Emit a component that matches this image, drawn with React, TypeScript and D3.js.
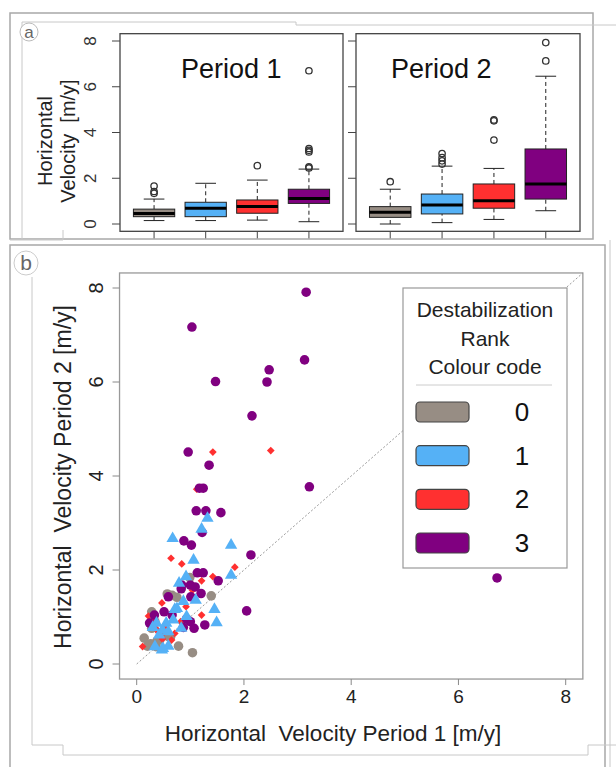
import React from 'react'
import * as d3 from 'd3'

// box plot stats: [lowWhisker, q1, median, q3, highWhisker]
const ranks = ['0', '1', '2', '3']
const rankColors = ['#978d84', '#55b1f6', '#ff3030', '#800080']

const period1Stats = [
  [0.15, 0.32, 0.46, 0.65, 1.09],
  [0.15, 0.32, 0.69, 0.95, 1.78],
  [0.17, 0.47, 0.76, 1.05, 1.92],
  [0.1, 0.9, 1.12, 1.52, 2.4],
]
const period1Outliers = [
  [1.34, 1.42, 1.66],
  [],
  [2.55],
  [2.45, 2.5, 3.15, 3.22, 3.3, 6.7],
]
const period2Stats = [
  [0.0, 0.29, 0.51, 0.76, 1.52],
  [0.06, 0.44, 0.83, 1.31, 2.53],
  [0.2, 0.69, 1.02, 1.75, 2.43],
  [0.58, 1.09, 1.75, 3.28, 6.46],
]
const period2Outliers = [
  [1.85],
  [2.62, 2.76, 2.9, 3.08],
  [3.67, 4.51, 4.55],
  [7.13, 7.93],
]

const yTicks = [0, 2, 4, 6, 8]
const xTicks = [0, 2, 4, 6, 8]

// scatter points: [period 1, period 2]
const rank0Points = [
  [0.99, 1.84], [0.57, 1.49], [0.75, 1.42], [1.39, 1.45], [1.04, 0.24], [0.78, 0.38],
  [0.28, 1.11], [0.31, 1.02], [0.28, 0.76], [0.14, 0.55], [0.25, 0.4], [0.38, 0.49],
  [0.5, 0.64], [0.63, 0.57], [0.59, 0.58], [0.36, 0.37], [0.2, 0.38], [0.34, 0.9],
  [0.43, 0.51], [0.66, 1.46], [0.26, 0.43],
]
const rank1Points = [
  [0.67, 2.67], [1.21, 2.87], [1.32, 3.1], [1.76, 2.53], [1.06, 2.21], [1.76, 1.89],
  [0.92, 1.86], [0.79, 1.72], [1.45, 1.16], [1.49, 0.88], [1.1, 1.36], [0.75, 1.18],
  [0.87, 1.33], [0.71, 1.16], [0.68, 0.94], [0.55, 0.87], [0.48, 0.72], [0.37, 0.87],
  [0.3, 0.78], [0.42, 0.62], [0.34, 0.37], [0.47, 0.3], [0.83, 0.76], [0.59, 0.69],
  [0.93, 1.01], [0.59, 0.38], [0.49, 0.33],
]
const rank2Points = [
  [1.42, 4.51], [2.5, 4.54], [1.12, 3.72], [0.64, 2.25], [0.84, 2.13], [1.83, 2.06],
  [1.42, 1.86], [1.21, 1.77], [1.04, 1.57], [0.47, 1.3], [0.92, 1.22], [1.21, 1.04],
  [0.82, 0.9], [0.22, 1.02], [0.34, 0.94], [0.37, 0.74], [0.47, 0.63], [0.53, 0.76],
  [0.65, 0.51], [0.48, 0.53], [0.11, 0.37], [0.71, 0.65], [0.41, 0.67],
]
const rank3Points = [
  [3.16, 7.91], [1.03, 7.17], [1.47, 6.01], [2.47, 6.26], [2.43, 6.0], [3.13, 6.47],
  [2.15, 5.28], [0.96, 4.51], [1.35, 4.23], [3.22, 3.77], [6.72, 1.83], [1.17, 3.74],
  [1.24, 3.74], [1.11, 3.26], [1.29, 3.26], [1.57, 3.22], [1.22, 2.8], [0.88, 2.62],
  [1.02, 2.53], [2.13, 2.32], [1.13, 1.94], [1.24, 1.94], [1.52, 1.77], [0.84, 1.68],
  [1.0, 1.68], [1.09, 1.64], [1.2, 1.5], [0.59, 1.43], [0.83, 1.6], [1.01, 1.43],
  [2.05, 1.13], [0.51, 1.11], [0.66, 1.04], [0.93, 0.96], [1.0, 0.9], [1.27, 0.83],
  [1.07, 0.76], [0.87, 0.78], [0.24, 0.87], [0.33, 1.04],
]

const FONT = '"Liberation Sans", Arial, sans-serif'

const BoxPanel = ({ x0, x1, stats, outliers, title, titleX, labels }) => {
  const x = d3.scaleLinear().domain([0.34, 4.66]).range([x0, x1])
  const y = d3.scaleLinear().domain([0, 8]).range([224, 41])
  const half = (x(1) - x(0)) * 0.4
  const staple = half / 2
  return (
    <g>
      <rect x={x0} y={y(8.32)} width={x1 - x0} height={y(-0.32) - y(8.32)} fill="none" stroke="#444" strokeWidth={1.3} />
      {/* y axis */}
      {yTicks.map(t => (
        <g key={t}>
          <line x1={x0 - 8} x2={x0} y1={y(t)} y2={y(t)} stroke="#444" />
          {labels && (
            <text x={x0 - 30} y={y(t)} transform={`rotate(-90,${x0 - 30},${y(t)})`} textAnchor="middle" dy="0.36em" fontSize={17} fill="#333" fontFamily={FONT}>
              {t}
            </text>
          )}
        </g>
      ))}
      {/* x ticks (labels cut off) */}
      {ranks.map((r, i) => (
        <line key={r} x1={x(i + 1)} x2={x(i + 1)} y1={y(-0.32)} y2={y(-0.32) + 7} stroke="#444" />
      ))}
      <text x={titleX} y={78} fontSize={27} fontFamily={FONT} fill="#111">{title}</text>
      {stats.map((s, i) => {
        const cx = x(i + 1)
        return (
          <g key={i}>
            <line x1={cx} x2={cx} y1={y(s[0])} y2={y(s[1])} stroke="#222" strokeDasharray="4,3" />
            <line x1={cx} x2={cx} y1={y(s[3])} y2={y(s[4])} stroke="#222" strokeDasharray="4,3" />
            <line x1={cx - staple} x2={cx + staple} y1={y(s[0])} y2={y(s[0])} stroke="#222" />
            <line x1={cx - staple} x2={cx + staple} y1={y(s[4])} y2={y(s[4])} stroke="#222" />
            <rect x={cx - half} y={y(s[3])} width={half * 2} height={y(s[1]) - y(s[3])} fill={rankColors[i]} stroke="#222" />
            <line x1={cx - half} x2={cx + half} y1={y(s[2])} y2={y(s[2])} stroke="#000" strokeWidth={3} />
            {outliers[i].map((o, j) => (
              <circle key={j} cx={cx} cy={y(o)} r={3.2} fill="none" stroke="#333" strokeWidth={1.3} />
            ))}
          </g>
        )
      })}
    </g>
  )
}

const App = () => {
  const x = d3.scaleLinear().domain([0, 8]).range([136.7, 565.7])
  const y = d3.scaleLinear().domain([0, 8]).range([664, 288])
  const circle = d3.symbol().type(d3.symbolCircle).size(72)()
  const tri = d3.symbol().type(d3.symbolTriangle).size(66)()
  const diamond = d3.symbol().type(d3.symbolDiamond2).size(38)()

  const series = [
    { pts: rank0Points, path: circle, color: rankColors[0] },
    { pts: rank2Points, path: diamond, color: rankColors[2] },
    { pts: rank3Points, path: circle, color: rankColors[3] },
    { pts: rank1Points, path: tri, color: rankColors[1] },
  ]

  const legendY = d3.scalePoint().domain(ranks).range([412, 543])

  return (
    <svg width={616} height={767} style={{ position: 'absolute', left: 0, top: 0, background: '#fff' }}>
      <rect width={616} height={767} fill="#fff" />
      {/* frames, panel a */}
      <rect x={10} y={13} width={583} height={226} fill="none" stroke="#a8a8a8" strokeWidth={1.5} />
      <polyline points="22,239 22,22 296,22 296,25 616,25" fill="none" stroke="#c8c8c8" />
      <circle cx={29} cy={32} r={9} fill="#fff" stroke="#bbb" />
      <text x={29} y={38} textAnchor="middle" fontSize={17} fill="#666" fontFamily={FONT}>a</text>

      <text transform="translate(52,141) rotate(-90)" textAnchor="middle" fontSize={20} fill="#222" fontFamily={FONT}>Horizontal</text>
      <text transform="translate(75,141) rotate(-90)" textAnchor="middle" fontSize={20} fill="#222" fontFamily={FONT} xmlSpace="preserve">Velocity  [m/y]</text>

      <BoxPanel x0={120} x1={343} stats={period1Stats} outliers={period1Outliers} title="Period 1" titleX={181} labels={true} />
      <BoxPanel x0={356} x1={580} stats={period2Stats} outliers={period2Outliers} title="Period 2" titleX={391} labels={false} />

      {/* frames, panel b */}
      <polyline points="10,767 10,245 605,245 605,767" fill="none" stroke="#a8a8a8" strokeWidth={1.5} />
      <polyline points="10,240 63,240 63,230" fill="none" stroke="#c8c8c8" />
      <polyline points="32,277 32,745 63,745 63,755 588,755 588,745 616,745" fill="none" stroke="#c8c8c8" />
      <line x1={610} x2={610} y1={240} y2={767} stroke="#c8c8c8" />
      <circle cx={26} cy={263} r={12} fill="#fff" stroke="#ccc" />
      <text x={26} y={270} textAnchor="middle" fontSize={21} fill="#666" fontFamily={FONT}>b</text>

      {/* scatter plot box */}
      <rect x={x(-0.32)} y={y(8.32)} width={x(8.32) - x(-0.32)} height={y(-0.32) - y(8.32)} fill="none" stroke="#999" strokeWidth={1.3} />
      <line x1={x(0)} y1={y(0)} x2={x(8.32)} y2={y(8.32)} stroke="#999" strokeDasharray="2,2" />

      {yTicks.map(t => (
        <g key={t}>
          <line x1={x(-0.32) - 7} x2={x(-0.32)} y1={y(t)} y2={y(t)} stroke="#888" />
          <text x={x(-0.32) - 24} y={y(t)} transform={`rotate(-90,${x(-0.32) - 24},${y(t)})`} textAnchor="middle" dy="0.36em" fontSize={20} fill="#222" fontFamily={FONT}>
            {t}
          </text>
        </g>
      ))}
      {xTicks.map(t => (
        <g key={t}>
          <line x1={x(t)} x2={x(t)} y1={y(-0.32)} y2={y(-0.32) + 6} stroke="#888" />
          <text x={x(t)} y={703} textAnchor="middle" fontSize={19} fill="#222" fontFamily={FONT}>{t}</text>
        </g>
      ))}
      <text x={333} y={741} textAnchor="middle" fontSize={22.5} fill="#222" fontFamily={FONT} xmlSpace="preserve">Horizontal  Velocity Period 1 [m/y]</text>
      <text transform="translate(71,477) rotate(-90)" textAnchor="middle" fontSize={23} fill="#222" fontFamily={FONT} xmlSpace="preserve">Horizontal  Velocity Period 2 [m/y]</text>

      {series.map((s, i) => (
        <g key={i}>
          {s.pts.map((p, j) => (
            <path key={j} d={s.path} transform={`translate(${x(p[0])},${y(p[1])})`} fill={s.color} />
          ))}
        </g>
      ))}

      {/* legend */}
      <rect x={403} y={288} width={164} height={280} fill="#fff" stroke="#999" strokeWidth={1.2} />
      <text x={485} y={317} textAnchor="middle" fontSize={21} fill="#222" fontFamily={FONT}>Destabilization</text>
      <text x={485} y={346} textAnchor="middle" fontSize={21} fill="#222" fontFamily={FONT}>Rank</text>
      <text x={485} y={374} textAnchor="middle" fontSize={21} fill="#222" fontFamily={FONT}>Colour code</text>
      <line x1={416} x2={552} y1={385} y2={385} stroke="#ccc" />
      {ranks.map((r, i) => (
        <g key={r}>
          <rect x={416} y={legendY(r) - 10} width={53} height={20} rx={4} fill={rankColors[i]} stroke="#444" strokeWidth={1.2} />
          <text x={522} y={legendY(r) + 9} textAnchor="middle" fontSize={26} fill="#111" fontFamily={FONT}>{r}</text>
        </g>
      ))}
    </svg>
  )
}

export default App
